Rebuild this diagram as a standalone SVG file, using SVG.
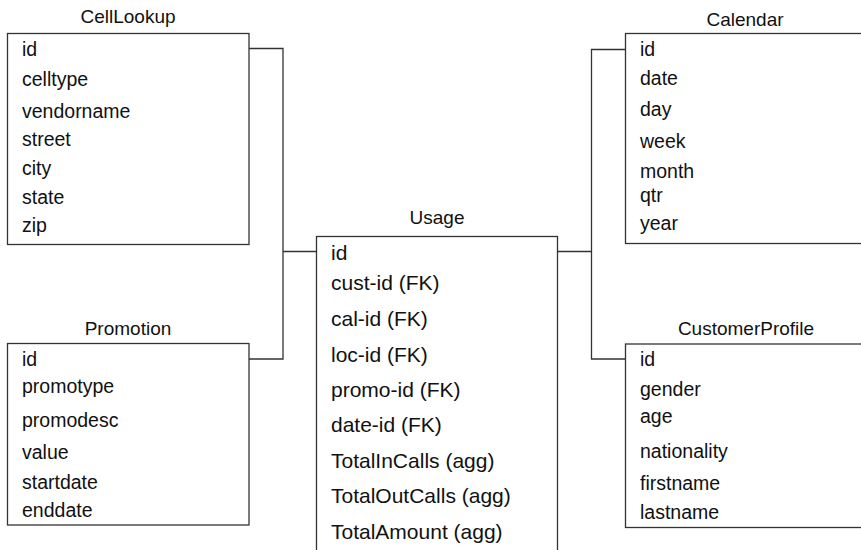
<svg xmlns="http://www.w3.org/2000/svg" width="861" height="550" viewBox="0 0 861 550">
<style>
.box{fill:#fff;stroke:#333;stroke-width:1.3}
.conn{fill:none;stroke:#333;stroke-width:1.3}
text{font-family:"Liberation Sans",Arial,sans-serif;fill:#111}
.t{font-size:19px;text-anchor:middle}
.r{font-size:19.5px}
.u{font-size:21px}
</style>
<rect width="861" height="550" fill="#fff"/>
<g id="connectors">
<path class="conn" d="M249 48.5 H283 V359 H249"/>
<path class="conn" d="M283 251.5 H316.5"/>
<path class="conn" d="M625.5 49.5 H591.5 V359 H625.5"/>
<path class="conn" d="M557.5 251.5 H591.5"/>
</g>
<g id="CellLookup">
<text class="t" x="128" y="23">CellLookup</text>
<rect class="box" x="7.5" y="33.5" width="241.5" height="211"/>
<text class="r" x="22" y="56">id</text>
<text class="r" x="22" y="86">celltype</text>
<text class="r" x="22" y="117.5">vendorname</text>
<text class="r" x="22" y="146">street</text>
<text class="r" x="22" y="174.5">city</text>
<text class="r" x="22" y="204">state</text>
<text class="r" x="22" y="232">zip</text>
</g>
<g id="Calendar">
<text class="t" x="745" y="26">Calendar</text>
<rect class="box" x="625.5" y="33.5" width="250" height="210"/>
<text class="r" x="640" y="56">id</text>
<text class="r" x="640" y="85">date</text>
<text class="r" x="640" y="116">day</text>
<text class="r" x="640" y="147.5">week</text>
<text class="r" x="640" y="178">month</text>
<text class="r" x="640" y="202">qtr</text>
<text class="r" x="640" y="230">year</text>
</g>
<g id="Usage">
<text class="t" x="437" y="224">Usage</text>
<rect class="box" x="316.5" y="236.5" width="241" height="320"/>
<text class="u" x="331" y="259.5">id</text>
<text class="u" x="331" y="290">cust-id (FK)</text>
<text class="u" x="331" y="326">cal-id (FK)</text>
<text class="u" x="331" y="361.5">loc-id (FK)</text>
<text class="u" x="331" y="396.5">promo-id (FK)</text>
<text class="u" x="331" y="432">date-id (FK)</text>
<text class="u" x="331" y="467.5">TotalInCalls (agg)</text>
<text class="u" x="331" y="503">TotalOutCalls (agg)</text>
<text class="u" x="331" y="539">TotalAmount (agg)</text>
</g>
<g id="Promotion">
<text class="t" x="128" y="335">Promotion</text>
<rect class="box" x="7.5" y="343.5" width="241.5" height="181.5"/>
<text class="r" x="22" y="366">id</text>
<text class="r" x="22" y="393">promotype</text>
<text class="r" x="22" y="427">promodesc</text>
<text class="r" x="22" y="459">value</text>
<text class="r" x="22" y="488.5">startdate</text>
<text class="r" x="22" y="517">enddate</text>
</g>
<g id="CustomerProfile">
<text class="t" x="746" y="335">CustomerProfile</text>
<rect class="box" x="625.5" y="344" width="250" height="183.5"/>
<text class="r" x="640" y="366">id</text>
<text class="r" x="640" y="395.5">gender</text>
<text class="r" x="640" y="423">age</text>
<text class="r" x="640" y="457.5">nationality</text>
<text class="r" x="640" y="490">firstname</text>
<text class="r" x="640" y="519">lastname</text>
</g>
</svg>
